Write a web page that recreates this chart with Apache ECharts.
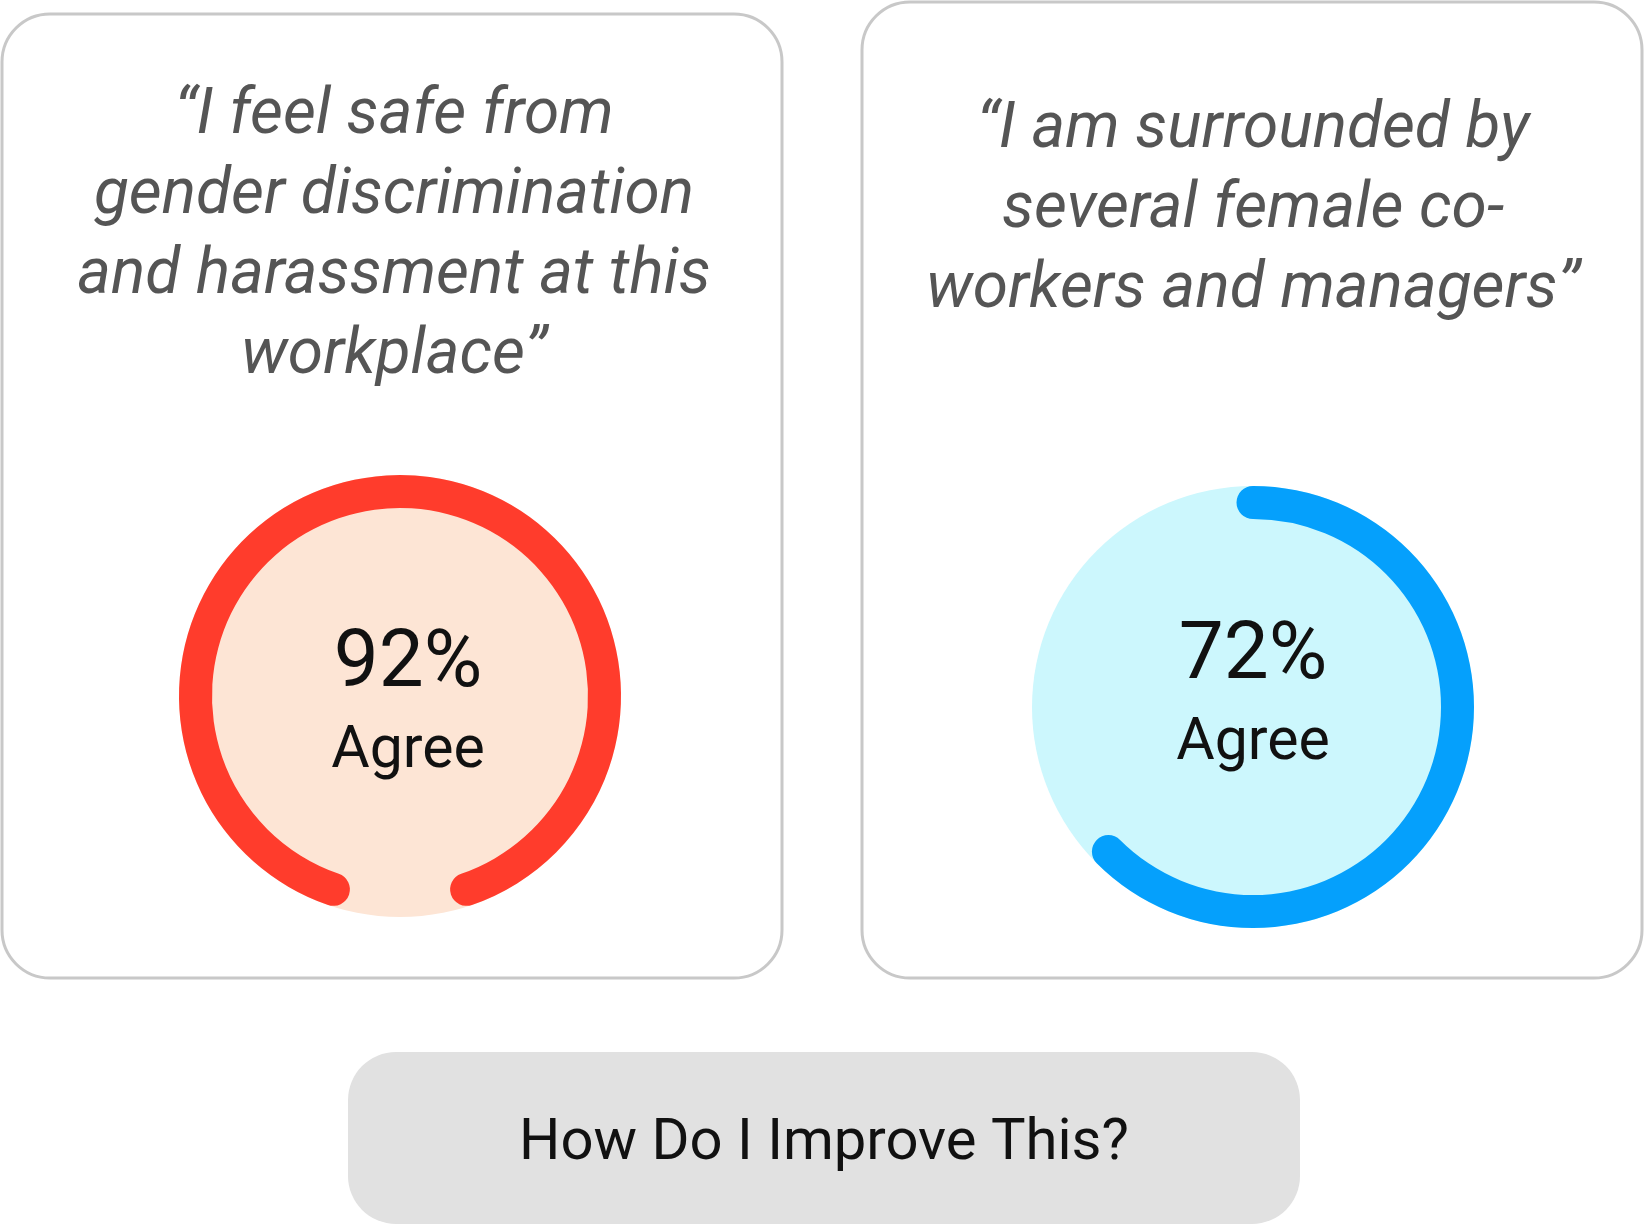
<!DOCTYPE html>
<html><head><meta charset="utf-8">
<script src="https://cdn.jsdelivr.net/npm/echarts@6.0.0/dist/echarts.min.js"></script>
<style>html,body{margin:0;padding:0;background:#fff}#c{width:1644px;height:1224px}</style>
</head><body><div id="c"></div>
<script>
// ---- data ----
const statements = [
  '\u201CI feel safe from\ngender discrimination\nand harassment at this\nworkplace\u201D',
  '\u201CI am surrounded by\nseveral female co-\nworkers and managers\u201D'
];
const agreeValues = [92, 72];
const valueLabel = 'Agree';
const buttonLabel = 'How Do I Improve This?';

// ---- layout / style ----
const ringColors = ['#FF3C2C', '#05A0FC'];
const fillColors = ['#FDE5D5', '#CCF7FD'];
const centers = [[400, 696], [1253, 707]];
const R = 221, W = 33;
const angles = [[251, -99], [90, -222.5]];
const detailOffsets = [[8, 9], [0, -10]];
const cards = [[2, 14, 780, 964], [862, 2, 780, 976]];
const textTops = [77, 91];
const textX = [394, 1253];
const FONT = 'Roboto';

const chart = echarts.init(document.getElementById('c'), null, {renderer: 'canvas'});
const series = [];
agreeValues.forEach((v, i) => {
  const hidden = {pointer:{show:false}, axisTick:{show:false}, splitLine:{show:false}, axisLabel:{show:false}, title:{show:false}, anchor:{show:false}};
  series.push(Object.assign({
    type: 'gauge', center: centers[i], radius: R, startAngle: 90, endAngle: -270, min: 0, max: 100, silent: true, z: 2,
    axisLine: {show: true, lineStyle: {width: R, color: [[1, fillColors[i]]]}},
    progress: {show: false}, detail: {show: false}, data: []
  }, hidden));
  series.push(Object.assign({
    type: 'gauge', center: centers[i], radius: R, startAngle: angles[i][0], endAngle: angles[i][1], min: 0, max: 100, clockwise: true, z: 3,
    axisLine: {show: false, lineStyle: {width: W}},
    progress: {show: true, width: W, roundCap: true, itemStyle: {color: ringColors[i]}},
    detail: {
      show: true, offsetCenter: detailOffsets[i], valueAnimation: false, fontWeight: 'normal',
      formatter: val => '{v|' + val + '%}\n{a|' + valueLabel + '}',
      rich: {
        v: {fontFamily: FONT, fontWeight: 'normal', fontSize: 80, lineHeight: 95, color: '#111', align: 'center'},
        a: {fontFamily: FONT, fontWeight: 'normal', fontSize: 59, lineHeight: 78, color: '#111', align: 'center'}
      }
    },
    data: [{value: v}]
  }, hidden));
});

const graphic = [];
cards.forEach(c => {
  graphic.push({type: 'rect', z: -10, shape: {x: c[0], y: c[1], width: c[2], height: c[3], r: 48},
    style: {fill: '#fff', stroke: '#C8C8C8', lineWidth: 3}});
});
statements.forEach((s, i) => {
  graphic.push({type: 'text', z: 5, x: textX[i], y: textTops[i], style: {
    text: s, fontFamily: FONT, fontStyle: 'italic', fontSize: 64, lineHeight: 80,
    fill: '#555555', align: 'center', verticalAlign: 'top'}});
});
graphic.push({type: 'rect', z: -10, shape: {x: 348, y: 1052, width: 952, height: 172, r: 48}, style: {fill: '#E1E1E1'}});
graphic.push({type: 'text', z: 5, x: 824, y: 1144, style: {text: buttonLabel, fontFamily: FONT, fontSize: 58,
  fill: '#111', align: 'center', verticalAlign: 'middle'}});

chart.setOption({animation: false, backgroundColor: '#fff', series, graphic});
</script></body></html>
